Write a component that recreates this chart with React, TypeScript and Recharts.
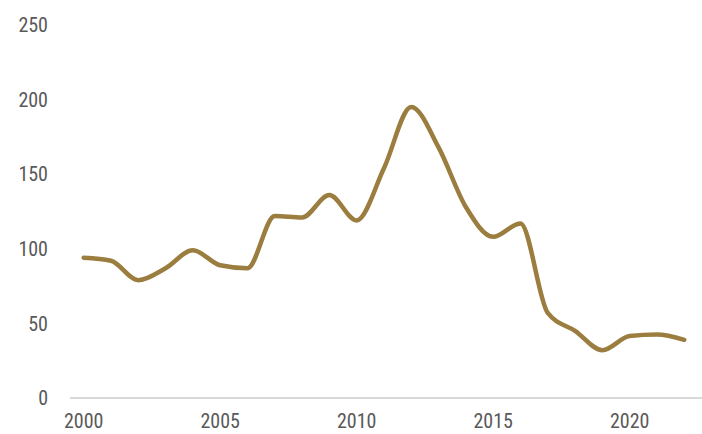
import { LineChart, Line, XAxis, YAxis } from "recharts";

const years = [
  2000, 2001, 2002, 2003, 2004, 2005, 2006, 2007, 2008, 2009, 2010, 2011,
  2012, 2013, 2014, 2015, 2016, 2017, 2018, 2019, 2020, 2021, 2022,
];
const values = [
  94, 92, 79, 87, 99, 89, 87, 122, 121, 136, 119, 154,
  195, 168, 128, 108, 117, 57, 45, 32, 41.5, 42.5, 39,
];
const xTicks = [2000, 2005, 2010, 2015, 2020];
const yTicks = [0, 50, 100, 150, 200, 250];

const data = years.map((year, i) => ({ year, value: values[i] }));

const tickStyle = {
  fill: "#595959",
  fontSize: 20,
  fontFamily: "'Liberation Sans Narrow', 'Roboto Condensed', Roboto, sans-serif",
};

export default function App() {
  return (
    <div style={{ position: "absolute", left: 0, top: 0, background: "#fff" }}>
      <LineChart
        width={702}
        height={434}
        data={data}
        margin={{ top: 25, right: 0, bottom: 0, left: 0 }}
      >
        <XAxis
          dataKey="year"
          type="number"
          domain={[1999.5, 2022.65]}
          ticks={xTicks}
          tick={tickStyle}
          tickLine={false}
          tickSize={0}
          tickMargin={16}
          height={36}
          axisLine={{ stroke: "#d9d9d9", strokeWidth: 2 }}
        />
        <YAxis
          domain={[0, 250]}
          ticks={yTicks}
          tick={tickStyle}
          tickLine={false}
          tickSize={0}
          tickMargin={22}
          axisLine={false}
          width={70}
        />
        <Line
          type="monotone"
          dataKey="value"
          stroke="#9a7d3f"
          strokeWidth={4.5}
          strokeLinecap="round"
          dot={false}
          isAnimationActive={false}
        />
      </LineChart>
    </div>
  );
}
